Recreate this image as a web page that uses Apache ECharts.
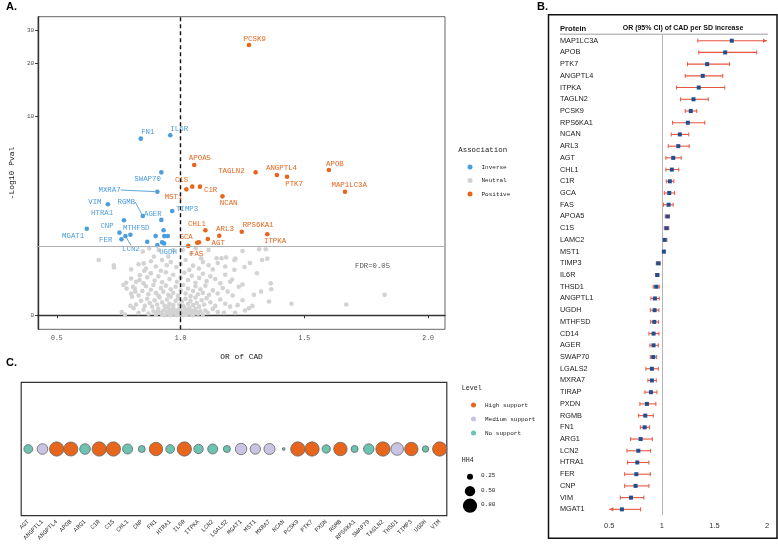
<!DOCTYPE html>
<html><head><meta charset="utf-8">
<script src="https://cdn.jsdelivr.net/npm/echarts@6/dist/echarts.min.js"></script>
<style>html,body{margin:0;padding:0;background:#fff}#c{width:778px;height:548px}</style>
</head><body><div id="c"></div><script>
// ================= Panel A: volcano =================
const positiveNames = ['PCSK9','APOA5','TAGLN2','ANGPTL4','PTK7','APOB','MAP1LC3A','C1S','C1R','MST1','NCAN','CHL1','ARL3','RPS6KA1','ITPKA','AGT','GCA','FAS','LAMC2'];
const positiveOR    = [1.276,1.055,1.303,1.389,1.430,1.599,1.664,1.047,1.078,1.023,1.169,1.100,1.156,1.247,1.350,1.110,1.067,1.074,1.031];
const positiveP     = [25.07,5.13,4.61,4.43,4.32,4.77,3.44,3.72,3.72,3.57,3.20,1.79,1.61,1.74,1.66,1.51,1.40,1.41,1.31];

const inverseNames = ['FN1','IL6R','SWAP70','MXRA7','VIM','RGMB','AGER','TIMP3','HTRA1','CNP','MGAT1','ARG1','LCN2','FER','PXDN','TIRAP','LGALS2','MTHFSD','ANGPTL1','THSD1','CD14','UGDH'];
const inverseOR    = [0.839,0.958,0.922,0.906,0.706,0.847,0.922,0.966,0.771,0.753,0.621,0.797,0.777,0.761,0.865,0.899,0.906,0.931,0.934,0.948,0.925,0.933];
const inverseP     = [7.42,7.77,4.61,3.44,2.82,2.31,2.16,2.52,2.15,1.71,1.84,1.64,1.60,1.50,1.43,1.60,1.33,1.79,1.60,1.60,1.41,1.38];

const neutralPoints = [
 [0.87,0.02],[0.89,0.05],[0.90,0.01],[0.91,0.08],[0.92,0.03],[0.93,0.06],[0.935,0.00],[0.94,0.10],[0.945,0.04],[0.95,0.02],
 [0.955,0.07],[0.96,0.00],[0.965,0.05],[0.97,0.09],[0.975,0.02],[0.98,0.06],[0.985,0.00],[0.99,0.04],[0.995,0.08],[1.00,0.01],
 [1.005,0.05],[1.01,0.00],[1.015,0.03],[1.02,0.07],[1.025,0.01],[1.03,0.05],[1.035,0.09],[1.04,0.02],[1.045,0.06],[1.05,0.00],
 [1.055,0.04],[1.06,0.08],[1.07,0.02],[1.08,0.05],[1.09,0.01],[1.10,0.06],[1.11,0.03],[1.13,0.08],[1.15,0.04],[0.85,0.07],
 [0.83,0.03],[0.81,0.09],[0.762,0.04],[0.775,0.01],[0.925,0.01],[0.958,0.03],[0.992,0.02],[1.028,0.03],[1.065,0.04],[0.905,0.04],
 [0.82,0.14],[0.84,0.19],[0.855,0.12],[0.865,0.22],[0.875,0.16],[0.885,0.11],[0.895,0.20],[0.905,0.14],[0.915,0.24],[0.925,0.17],
 [0.935,0.12],[0.945,0.21],[0.955,0.15],[0.96,0.25],[0.97,0.13],[0.98,0.19],[0.99,0.23],[0.995,0.14],[1.005,0.18],[1.01,0.12],
 [1.02,0.22],[1.03,0.15],[1.04,0.19],[1.05,0.13],[1.06,0.24],[1.065,0.16],[1.075,0.11],[1.085,0.20],[1.095,0.14],[1.105,0.23],
 [1.12,0.17],[1.14,0.12],[1.16,0.21],[1.18,0.15],[1.20,0.11],[1.23,0.13],[0.797,0.12],[0.804,0.25],[0.95,0.11],[1.015,0.10],
 [0.80,0.30],[0.815,0.38],[0.83,0.27],[0.845,0.34],[0.86,0.42],[0.87,0.29],[0.88,0.36],[0.89,0.44],[0.90,0.31],[0.91,0.27],
 [0.92,0.39],[0.93,0.33],[0.94,0.43],[0.95,0.28],[0.96,0.37],[0.97,0.31],[0.98,0.41],[0.99,0.27],[1.00,0.35],[1.01,0.44],
 [1.02,0.30],[1.03,0.38],[1.04,0.26],[1.05,0.34],[1.06,0.42],[1.07,0.29],[1.08,0.37],[1.09,0.31],[1.10,0.43],[1.115,0.28],
 [1.13,0.35],[1.15,0.30],[1.17,0.39],[1.19,0.33],[1.21,0.27],[0.817,0.33],[0.769,0.44],[0.782,0.38],[0.808,0.41],[1.235,0.41],
 [0.78,0.48],[0.80,0.56],[0.82,0.50],[0.835,0.62],[0.85,0.47],[0.865,0.58],[0.88,0.66],[0.895,0.52],[0.91,0.60],[0.925,0.49],
 [0.94,0.68],[0.955,0.55],[0.97,0.63],[0.985,0.50],[1.00,0.58],[1.015,0.67],[1.03,0.53],[1.045,0.61],[1.06,0.48],[1.075,0.57],
 [1.09,0.65],[1.105,0.51],[1.12,0.60],[1.14,0.55],[1.16,0.47],[1.18,0.63],[1.20,0.50],[1.208,0.54],[1.25,0.45],[0.834,0.53],
 [0.73,0.83],[0.731,0.78],[0.80,0.74],[0.83,0.85],[0.851,0.87],[0.86,0.76],[0.88,0.92],[0.90,0.80],[0.92,0.71],[0.944,0.83],
 [0.96,0.90],[0.983,0.79],[1.00,0.86],[1.02,0.95],[1.035,0.73],[1.05,0.82],[1.074,0.76],[1.09,0.90],[1.113,0.83],[1.13,0.74],
 [1.15,0.88],[1.217,0.73],[1.258,0.79],[1.28,0.88],[1.308,0.66],[1.18,0.80],[0.879,0.66],[0.853,0.71],
 [0.669,0.95],[0.847,1.16],[0.873,1.24],[0.892,1.03],[0.911,1.20],[0.925,0.95],[0.95,1.03],[0.97,1.20],[1.009,1.20],[1.042,1.11],
 [1.061,1.24],[1.083,0.99],[1.113,1.20],[1.145,0.99],[1.165,0.99],[1.184,1.01],[1.217,0.95],[1.25,1.17],[1.317,1.22],[1.344,1.22],
 [1.221,0.98],[1.329,0.95],[1.35,0.98],
 [1.364,0.47],[1.366,0.37],[1.325,0.33],[1.357,0.18],[1.448,0.15],[1.669,0.14],[1.824,0.28],[1.276,0.09],[1.175,0.03],[1.25,0.20],
 [1.296,0.28],[1.26,0.06],[1.22,0.03],[1.29,0.12]
];
const fdrThreshold = 1.288;
const xTicksA = [0.5, 1.0, 1.5, 2.0];
const yTicksA = [0, 10, 20, 30];

// ================= Panel B: forest =================
const forestProteins = ['MAP1LC3A','APOB','PTK7','ANGPTL4','ITPKA','TAGLN2','PCSK9','RPS6KA1','NCAN','ARL3','AGT','CHL1','C1R','GCA','FAS','APOA5','C1S','LAMC2','MST1','TIMP3','IL6R','THSD1','ANGPTL1','UGDH','MTHFSD','CD14','AGER','SWAP70','LGALS2','MXRA7','TIRAP','PXDN','RGMB','FN1','ARG1','LCN2','HTRA1','FER','CNP','VIM','MGAT1'];
const forestOR   = [1.665,1.602,1.431,1.389,1.351,1.301,1.275,1.247,1.171,1.156,1.108,1.095,1.076,1.070,1.064,1.054,1.045,1.026,1.019,0.966,0.956,0.947,0.934,0.931,0.928,0.921,0.921,0.918,0.905,0.905,0.896,0.858,0.842,0.836,0.798,0.776,0.766,0.757,0.750,0.706,0.620];
const forestLow  = [1.342,1.351,1.244,1.222,1.140,1.178,1.222,1.102,1.089,1.061,1.038,1.038,1.042,1.023,1.016,1.032,1.023,1.007,1.009,0.947,0.943,0.918,0.896,0.890,0.893,0.877,0.886,0.890,0.848,0.867,0.839,0.791,0.779,0.795,0.703,0.668,0.674,0.646,0.646,0.605,0.480];
const forestHigh = [2.020,1.902,1.643,1.579,1.598,1.441,1.332,1.408,1.256,1.260,1.184,1.161,1.114,1.121,1.108,1.073,1.066,1.047,1.028,0.985,0.972,0.975,0.975,0.972,0.969,0.972,0.966,0.950,0.966,0.947,0.953,0.943,0.918,0.883,0.909,0.893,0.877,0.890,0.877,0.829,0.798];
const forestTicks = [0.5, 1, 1.5, 2];

// ================= Panel C: colocalization =================
const colocGenes = ['AGT','ANGPTL1','ANGPTL4','APOB','ARG1','C1R','C1S','CHL1','CNP','FN1','HTRA1','IL6R','ITPKA','LCN2','LGALS2','MGAT1','MST1','MXRA7','NCAN','PCSK9','PTK7','PXDN','RGMB','RPS6KA1','SWAP70','TAGLN2','THSD1','TIMP3','UGDH','VIM'];
const colocLevel = ['No support','Medium support','High support','High support','No support','High support','High support','No support','No support','High support','No support','High support','No support','No support','No support','Medium support','Medium support','Medium support','No support','High support','High support','No support','High support','No support','No support','High support','Medium support','High support','No support','High support'];
const colocHH4   = [0.40,0.52,0.80,0.78,0.52,0.80,0.80,0.48,0.30,0.73,0.40,0.80,0.44,0.48,0.30,0.58,0.50,0.55,0.12,0.80,0.80,0.37,0.73,0.30,0.51,0.80,0.66,0.73,0.27,0.80];
const levelNames = ['High support','Medium support','No support'];
const hh4LegendValues = [0.25, 0.50, 0.80];

// ================= styling =================
const MONO = '"Liberation Mono","DejaVu Sans Mono",monospace';
const SANS = '"Liberation Sans",Arial,sans-serif';
const BLUE = '#4b9ddb', ORANGE = '#e8661c', GRAY = '#d3d3d3';
const LEVEL_COLORS = {'High support':'#e8661c','Medium support':'#c9c4e2','No support':'#6cc3b0'};
const tf = v => Math.log(1 + v);
const sizeC = h => 21 * Math.sqrt(h) - 4.5;

const labelOffsetA = {PCSK9:[5.8,-6],FN1:[7,-6.4],IL6R:[9,-6.6],APOA5:[5.7,-6.7],TAGLN2:[-24.2,-1.6],ANGPTL4:[4.6,-6.7],PTK7:[7,7],APOB:[6,-6.3],MAP1LC3A:[4.2,-6.7],NCAN:[6.2,6.4],ARL3:[5.7,-6.4],RPS6KA1:[16.4,-6.4],ITPKA:[7.8,7],AGT:[10.4,4.3],C1R:[10.7,3.3],C1S:[-10.7,-6.4],MST1:[-12.8,7.7],CHL1:[-8.4,-6.3],GCA:[-11.1,-6],FAS:[-2.3,11.4],
  SWAP70:[-13.7,7],MXRA7:[-47.8,-1.7],VIM:[-13,-2.6],RGMB:[-16.4,-14],AGER:[-8.5,-6.3],TIMP3:[14.9,-2],HTRA1:[-21.8,-7],CNP:[-12.4,-6.7],MGAT1:[-13.7,7.3],FER:[-15.7,0.7],LCN2:[5.5,12.7],MTHFSD:[-27.3,-2.6],UGDH:[4,8.7]};
const lineLabels = ['MXRA7','RGMB','LCN2'];

function volcanoData(names, ors, ps) {
  return names.map((n, i) => ({
    name: n, value: [ors[i], tf(ps[i])],
    label: {show: !!labelOffsetA[n]},
    labelLine: {show: lineLabels.includes(n)}
  }));
}
function volcanoLayout(names) {
  return p => { const o = labelOffsetA[names[p.dataIndex]]; return o ? {dx: o[0], dy: o[1]} : {}; };
}
const volLabel = c => ({show: true, position: 'inside', formatter: '{b}', color: c, fontFamily: MONO, fontSize: 7.4});

// forest renderer
function renderForest(params, api) {
  const idx = api.value(0), lo = api.value(1), hi = api.value(2);
  const loC = Math.max(lo, 0.5), hiC = Math.min(hi, 2);
  const p1 = api.coord([loC, idx]), p2 = api.coord([hiC, idx]);
  const y = p1[1], col = '#e8553f';
  const ch = [{type: 'line', shape: {x1: p1[0], y1: y, x2: p2[0], y2: y}, style: {stroke: col, lineWidth: 1.1}}];
  if (lo >= 0.5) ch.push({type: 'line', shape: {x1: p1[0], y1: y - 2, x2: p1[0], y2: y + 2}, style: {stroke: col, lineWidth: 1}});
  else ch.push({type: 'polygon', shape: {points: [[p1[0], y], [p1[0] + 4, y - 2], [p1[0] + 4, y + 2]]}, style: {fill: col}});
  if (hi <= 2) ch.push({type: 'line', shape: {x1: p2[0], y1: y - 2, x2: p2[0], y2: y + 2}, style: {stroke: col, lineWidth: 1}});
  else ch.push({type: 'polygon', shape: {points: [[p2[0], y], [p2[0] - 4, y - 2], [p2[0] - 4, y + 2]]}, style: {fill: col}});
  return {type: 'group', children: ch};
}

const gridA = {left: 23.3, top: 16.7, width: 421.7, height: 312.6};
const chart = echarts.init(document.getElementById('c'), null, {renderer: 'canvas'});

const colocSeries = levelNames.map(lv => ({
  name: lv, type: 'scatter', xAxisIndex: 2, yAxisIndex: 2,
  data: colocGenes.map((g, i) => colocLevel[i] === lv ? [i, 0, colocHH4[i]] : null).filter(d => d),
  symbolSize: v => sizeC(v[2]),
  itemStyle: {color: LEVEL_COLORS[lv], borderColor: '#666', borderWidth: 0.8, opacity: 1},
  emphasis: {disabled: true}
}));

const hh4Graphics = [];
hh4LegendValues.forEach((h, i) => {
  const cy = 476.7 + i * 14.5;
  hh4Graphics.push({type: 'circle', shape: {cx: 470, cy: cy, r: sizeC(h) / 2}, style: {fill: '#000'}});
  hh4Graphics.push({type: 'text', left: 481, top: cy - 4, style: {text: h.toFixed(2), font: '6px ' + MONO, fill: '#222'}});
});

chart.setOption({
  animation: false,
  grid: [
    Object.assign({show: true, borderColor: '#666', borderWidth: 1}, gridA),
    {left: 609.3, top: 34.85, width: 157.7, height: 480.35},
    {left: 21.2, top: 382.3, width: 425.6, height: 133.4, show: true, borderColor: '#333', borderWidth: 1.2}
  ],
  legend: [
    {data: ['Inverse', 'Neutral', 'Positive'], orient: 'vertical', left: 462.5, top: 159, itemWidth: 5, itemHeight: 5, itemGap: 7.5, icon: 'circle',
     textStyle: {fontFamily: MONO, fontSize: 6, color: '#222', padding: [0, 0, 0, 4]}, selectedMode: false},
    {data: levelNames, orient: 'vertical', left: 466, top: 397, itemWidth: 5, itemHeight: 5, itemGap: 8, icon: 'circle',
     itemStyle: {borderWidth: 0}, textStyle: {fontFamily: MONO, fontSize: 6, color: '#222', padding: [0, 0, 0, 4]}, selectedMode: false}
  ],
  xAxis: [
    {gridIndex: 0, type: 'value', min: 0.4242, max: 2.068, name: 'OR of CAD', nameLocation: 'middle', nameGap: 24,
     nameTextStyle: {fontFamily: MONO, fontSize: 7.9, color: '#111'},
     axisLine: {lineStyle: {color: '#333', width: 1.4}}, axisTick: {customValues: xTicksA, length: 3, lineStyle: {color: '#333'}},
     axisLabel: {customValues: xTicksA, formatter: v => v.toFixed(1), fontFamily: MONO, fontSize: 6.5, color: '#4d4d4d', margin: 5},
     splitLine: {show: false}},
    {gridIndex: 1, type: 'value', min: 0.5, max: 2, interval: 0.5,
     axisLine: {lineStyle: {color: '#222', width: 1}}, axisTick: {length: 4, lineStyle: {color: '#222'}},
     axisLabel: {formatter: v => String(v), fontFamily: SANS, fontSize: 7.5, color: '#333', margin: 7},
     splitLine: {show: false}},
    {gridIndex: 2, type: 'category', data: colocGenes,
     axisLine: {show: false}, axisTick: {alignWithLabel: true, length: 3, lineStyle: {color: '#333'}},
     axisLabel: {rotate: 45, interval: 0, fontFamily: MONO, fontSize: 6.1, color: '#333', margin: 5}}
  ],
  yAxis: [
    {gridIndex: 0, type: 'value', min: -0.169, max: 3.602, name: '-Log10 Pval', nameLocation: 'middle', nameGap: 13, nameRotate: 90,
     nameTextStyle: {fontFamily: MONO, fontSize: 8, color: '#111'},
     axisLine: {lineStyle: {color: '#333', width: 1.4}}, axisTick: {customValues: yTicksA.map(tf), length: 3, lineStyle: {color: '#333'}},
     axisLabel: {customValues: yTicksA.map(tf), formatter: v => String(Math.round(Math.exp(v) - 1)), fontFamily: MONO, fontSize: 6, color: '#4d4d4d', margin: 4},
     splitLine: {show: false}},
    {gridIndex: 1, type: 'category', data: forestProteins, inverse: true,
     axisLine: {show: false}, axisTick: {show: false},
     axisLabel: {align: 'left', margin: 49.3, fontFamily: SANS, fontSize: 7.3, color: '#222'}},
    {gridIndex: 2, type: 'category', data: [''],
     axisLine: {show: false}, axisTick: {alignWithLabel: true, length: 3, lineStyle: {color: '#333'}}, axisLabel: {show: false}}
  ],
  series: [
    {name: 'Neutral', type: 'scatter', xAxisIndex: 0, yAxisIndex: 0, symbolSize: 4.6,
     data: neutralPoints.map(p => [p[0], tf(p[1])]), itemStyle: {color: GRAY, opacity: 1}, emphasis: {disabled: true},
     markLine: {silent: true, symbol: 'none', label: {show: false}, data: [
       {xAxis: 1, lineStyle: {color: '#111', type: [4, 3], width: 1.4}},
       {yAxis: tf(fdrThreshold), lineStyle: {color: '#b0b0b0', type: 'solid', width: 1}}]}},
    {name: 'Inverse', type: 'scatter', xAxisIndex: 0, yAxisIndex: 0, symbolSize: 4.6,
     data: volcanoData(inverseNames, inverseOR, inverseP), itemStyle: {color: BLUE, opacity: 1}, emphasis: {disabled: true},
     label: volLabel(BLUE), labelLayout: volcanoLayout(inverseNames), labelLine: {show: false, lineStyle: {color: BLUE, width: 0.9}}},
    {name: 'Positive', type: 'scatter', xAxisIndex: 0, yAxisIndex: 0, symbolSize: 4.6,
     data: volcanoData(positiveNames, positiveOR, positiveP), itemStyle: {color: ORANGE, opacity: 1}, emphasis: {disabled: true},
     label: volLabel(ORANGE), labelLayout: volcanoLayout(positiveNames), labelLine: {show: false, lineStyle: {color: ORANGE, width: 0.9}}},
    {type: 'custom', xAxisIndex: 1, yAxisIndex: 1, renderItem: renderForest, encode: {x: [1, 2], y: 0},
     data: forestProteins.map((p, i) => [i, forestLow[i], forestHigh[i]]), silent: true},
    {type: 'scatter', xAxisIndex: 1, yAxisIndex: 1, symbol: 'rect', symbolSize: 4, z: 5,
     data: forestProteins.map((p, i) => [forestOR[i], i]), itemStyle: {color: '#1f4f91', opacity: 1}, emphasis: {disabled: true},
     markLine: {silent: true, symbol: 'none', label: {show: false}, data: [{xAxis: 1}], lineStyle: {color: '#b5b5b5', type: 'solid', width: 1}}},
    ...colocSeries
  ],
  graphic: [
    {type: 'text', left: 6, top: 1, style: {text: 'A.', font: 'bold 11px ' + SANS, fill: '#000'}},
    {type: 'text', left: 537, top: 1, style: {text: 'B.', font: 'bold 11px ' + SANS, fill: '#000'}},
    {type: 'text', left: 6, top: 357, style: {text: 'C.', font: 'bold 11px ' + SANS, fill: '#000'}},
    {type: 'text', left: 355, top: 263, style: {text: 'FDR=0.05', font: '7.3px ' + MONO, fill: '#555'}},
    {type: 'text', left: 458.3, top: 147, style: {text: 'Association', font: '7.4px ' + MONO, fill: '#222'}},
    {type: 'text', left: 461.7, top: 384.5, style: {text: 'Level', font: '6.7px ' + MONO, fill: '#222'}},
    {type: 'text', left: 461.7, top: 457, style: {text: 'HH4', font: '6.7px ' + MONO, fill: '#222'}},
    ...hh4Graphics,
    {type: 'rect', shape: {x: 548.5, y: 14.7, width: 228.5, height: 523.6}, style: {fill: 'none', stroke: '#111', lineWidth: 1.5}},
    {type: 'text', left: 560, top: 25, style: {text: 'Protein', font: 'bold 7.6px ' + SANS, fill: '#111'}},
    {type: 'text', left: 622.7, top: 25, style: {text: 'OR (95% CI) of CAD per SD increase', font: 'bold 7px ' + SANS, fill: '#111'}},
    {type: 'line', shape: {x1: 560, y1: 34.2, x2: 768, y2: 34.2}, style: {stroke: '#888', lineWidth: 0.8}}
  ]
});
</script></body></html>
